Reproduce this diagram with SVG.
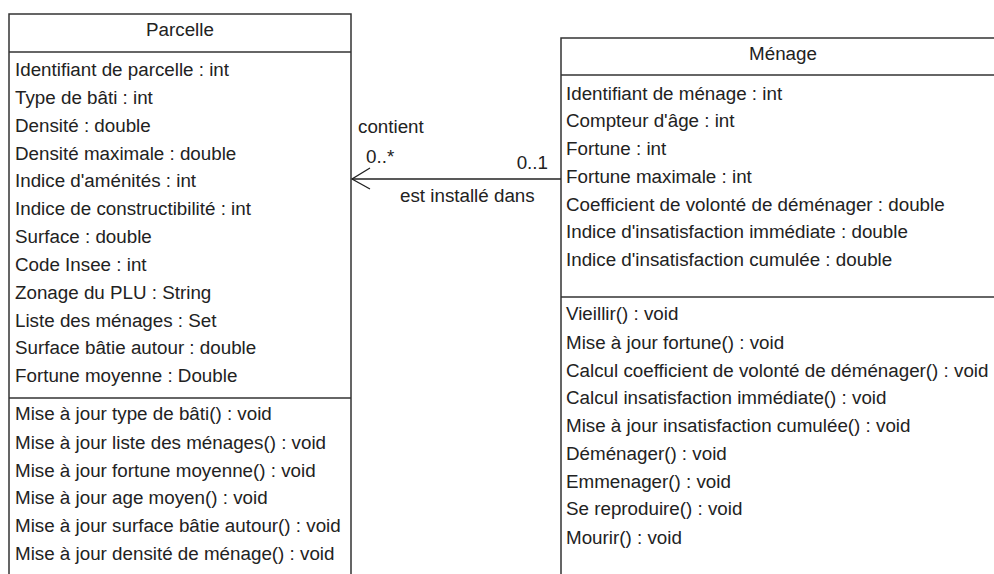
<svg xmlns="http://www.w3.org/2000/svg" width="994" height="574" viewBox="0 0 994 574">
<style>
.box{fill:#fff;stroke:#333;stroke-width:1.5}
.sep{stroke:#333;stroke-width:1.5}
text{font-family:"Liberation Sans",Arial,sans-serif;font-size:18.8px;fill:#222}
.t{text-anchor:middle}
.ln{stroke:#222;stroke-width:1.3;fill:none}
</style>
<rect width="994" height="574" fill="#fff"/>
<g id="parcelle">
<path class="box" d="M9,580 V14 H351 V580"/>
<line class="sep" x1="9" y1="52" x2="351" y2="52"/>
<line class="sep" x1="9" y1="398" x2="351" y2="398"/>
<text class="t" x="180" y="36">Parcelle</text>
<text x="15" y="76">Identifiant de parcelle : int</text>
<text x="15" y="104">Type de bâti : int</text>
<text x="15" y="132">Densité : double</text>
<text x="15" y="160">Densité maximale : double</text>
<text x="15" y="187">Indice d'aménités : int</text>
<text x="15" y="215">Indice de constructibilité : int</text>
<text x="15" y="243">Surface : double</text>
<text x="15" y="271">Code Insee : int</text>
<text x="15" y="299">Zonage du PLU : String</text>
<text x="15" y="327">Liste des ménages : Set</text>
<text x="15" y="354">Surface bâtie autour : double</text>
<text x="15" y="382">Fortune moyenne : Double</text>
<text x="15" y="420">Mise à jour type de bâti() : void</text>
<text x="15" y="449">Mise à jour liste des ménages() : void</text>
<text x="15" y="477">Mise à jour fortune moyenne() : void</text>
<text x="15" y="504">Mise à jour age moyen() : void</text>
<text x="15" y="532">Mise à jour surface bâtie autour() : void</text>
<text x="15" y="560">Mise à jour densité de ménage() : void</text>
</g>
<g id="menage">
<path class="box" d="M561,580 V38 H1000"/>
<line class="sep" x1="561" y1="75" x2="1000" y2="75"/>
<line class="sep" x1="561" y1="297" x2="1000" y2="297"/>
<text class="t" x="783" y="60">Ménage</text>
<text x="566" y="100">Identifiant de ménage : int</text>
<text x="566" y="127">Compteur d'âge : int</text>
<text x="566" y="155">Fortune : int</text>
<text x="566" y="183">Fortune maximale : int</text>
<text x="566" y="211">Coefficient de volonté de déménager : double</text>
<text x="566" y="238">Indice d'insatisfaction immédiate : double</text>
<text x="566" y="266">Indice d'insatisfaction cumulée : double</text>
<text x="566" y="320">Vieillir() : void</text>
<text x="566" y="349">Mise à jour fortune() : void</text>
<text x="566" y="377">Calcul coefficient de volonté de déménager() : void</text>
<text x="566" y="404">Calcul insatisfaction immédiate() : void</text>
<text x="566" y="432">Mise à jour insatisfaction cumulée() : void</text>
<text x="566" y="460">Déménager() : void</text>
<text x="566" y="488">Emmenager() : void</text>
<text x="566" y="515">Se reproduire() : void</text>
<text x="566" y="544">Mourir() : void</text>
</g>
<g id="connectors">
<line class="ln" x1="352" y1="179" x2="561" y2="179"/>
<polyline class="ln" points="370,168 352,179 370,189"/>
<text x="358" y="133">contient</text>
<text x="366" y="163">0..*</text>
<text x="548" y="169" text-anchor="end">0..1</text>
<text x="400" y="202">est installé dans</text>
</g>
</svg>
